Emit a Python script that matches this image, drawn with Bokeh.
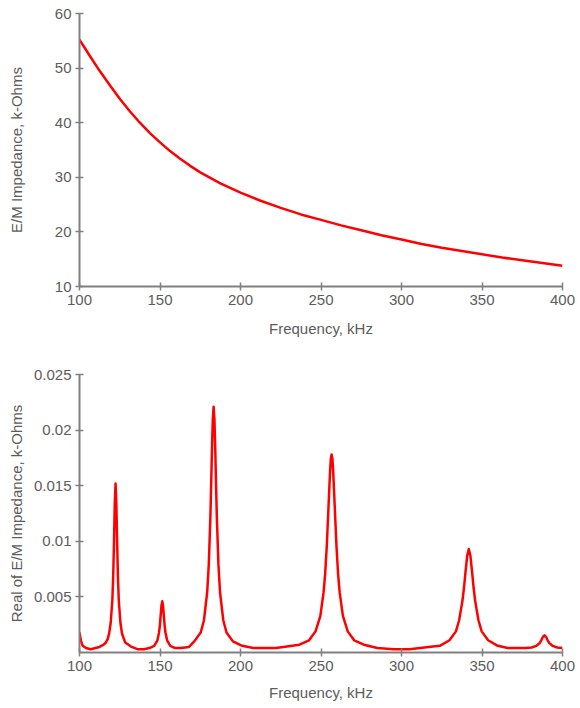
from bokeh.plotting import figure
from bokeh.layouts import column
from bokeh.models import FixedTicker, Range1d
from bokeh.embed import file_html
from bokeh.resources import INLINE

# ---- data: top chart (E/M impedance magnitude) ----
freq_top = [100, 106.25, 112.5, 118.75, 125, 131.25, 137.5, 143.75, 150, 156.25, 162.5,
            168.75, 175, 187.5, 200, 212.5, 225, 237.5, 250, 262.5, 275, 287.5, 300,
            312.5, 325, 337.5, 350, 362.5, 375, 387.5, 400]
imp_top = [55.2, 52.3, 49.5, 46.9, 44.4, 42.1, 40.0, 38.1, 36.4, 34.8, 33.4,
           32.1, 30.9, 28.9, 27.2, 25.7, 24.4, 23.2, 22.2, 21.2, 20.3, 19.4, 18.6,
           17.8, 17.1, 16.5, 15.9, 15.3, 14.8, 14.3, 13.8]

# ---- data: bottom chart (real part of E/M impedance) ----
freq_bot = [100, 101, 102, 104, 107, 110, 112.4, 115, 116.4, 117.5, 118.4, 119.4, 120.4,
            120.9, 121.4, 121.9, 122.4, 122.9, 123.4, 123.9, 124.4, 125.4, 126.4, 128.4,
            132.4, 136, 140, 143.4, 146.4, 148.4, 149.4, 149.9, 150.4, 150.9, 151.4,
            151.9, 152.4, 152.9, 153.4, 154.4, 156.4, 159.4, 163, 168, 171.3, 175.3,
            177.3, 179.3, 180.3, 181.3, 181.8, 182.3, 182.8, 183.3, 183.8, 184.3, 184.8,
            185.3, 186.3, 187.3, 189.3, 191.3, 195.3, 201, 208, 215, 222, 226.6, 236.6,
            242.6, 246.6, 249.6, 251.6, 252.6, 253.6, 254.6, 255.6, 256.1, 256.6, 257.1,
            257.6, 258.6, 259.6, 260.6, 261.6, 263.6, 266.6, 270.6, 276.6, 285, 295, 305,
            316.8, 323.8, 329.8, 333.8, 335.8, 337.8, 338.8, 339.8, 340.8, 341.8, 342.8,
            343.8, 344.8, 345.8, 347.8, 349.8, 353.8, 359.8, 366, 372, 377, 380.8, 383.8,
            385.8, 386.8, 387.8, 388.8, 389.8, 390.8, 391.8, 393.8, 396.8, 400]
real_bot = [0.0018, 0.0010, 0.0006, 0.0004, 0.0003, 0.0004, 0.0005, 0.0007, 0.0009, 0.0012,
            0.0017, 0.0027, 0.0047, 0.0067, 0.0097, 0.0133, 0.0152, 0.0133, 0.0097, 0.0067,
            0.0047, 0.0027, 0.0017, 0.0009, 0.0005, 0.0003, 0.0003, 0.0004, 0.0006, 0.0011,
            0.0018, 0.0024, 0.0033, 0.0042, 0.0046, 0.0042, 0.0033, 0.0024, 0.0018, 0.0011,
            0.0006, 0.0004, 0.0004, 0.0005, 0.0010, 0.0018, 0.0029, 0.0054, 0.0079, 0.0122,
            0.0152, 0.0184, 0.0210, 0.0221, 0.0210, 0.0184, 0.0152, 0.0122, 0.0079, 0.0054,
            0.0029, 0.0018, 0.0010, 0.0006, 0.0004, 0.0004, 0.0004, 0.0005, 0.0007, 0.0011,
            0.0019, 0.0033, 0.0054, 0.0071, 0.0096, 0.0129, 0.0162, 0.0174, 0.0178, 0.0174,
            0.0162, 0.0129, 0.0096, 0.0071, 0.0054, 0.0033, 0.0019, 0.0011, 0.0007, 0.0004,
            0.0003, 0.0003, 0.0005, 0.0006, 0.0011, 0.0019, 0.0029, 0.0046, 0.0058, 0.0073,
            0.0087, 0.0093, 0.0087, 0.0073, 0.0058, 0.0046, 0.0029, 0.0019, 0.0011, 0.0006,
            0.0004, 0.0004, 0.0004, 0.00045, 0.0006, 0.00084, 0.0011, 0.0014, 0.00155,
            0.0014, 0.0011, 0.00084, 0.0006, 0.00045, 0.0004]

x_ticks = [100, 150, 200, 250, 300, 350, 400]
y_ticks_top = [10, 20, 30, 40, 50, 60]
y_ticks_bot = [0.005, 0.01, 0.015, 0.02, 0.025]
y_labels_bot = ["0.005", "0.01", "0.015", "0.02", "0.025"]

FONT = "Liberation Sans"
TXT = "#5c5c5c"
AX = "#808080"


def style(p, ylab_standoff):
    p.xgrid.grid_line_color = None
    p.ygrid.grid_line_color = None
    p.outline_line_color = None
    p.background_fill_color = "white"
    p.border_fill_color = "white"
    for ax in (p.xaxis[0], p.yaxis[0]):
        ax.axis_line_color = AX
        ax.axis_line_width = 2
        ax.major_tick_line_color = AX
        ax.major_tick_line_width = 1.5
        ax.major_tick_in = 4
        ax.major_tick_out = 4
        ax.minor_tick_line_color = None
        ax.major_label_text_font = FONT
        ax.major_label_text_font_size = "15px"
        ax.major_label_text_color = TXT
        ax.major_label_standoff = 4
        ax.axis_label_text_font = FONT
        ax.axis_label_text_font_size = "15px"
        ax.axis_label_text_font_style = "normal"
        ax.axis_label_text_color = TXT
    p.xaxis[0].ticker = FixedTicker(ticks=x_ticks)
    p.xaxis[0].axis_label = "Frequency, kHz"
    p.yaxis[0].axis_label_standoff = ylab_standoff


p1 = figure(frame_width=483, frame_height=273, output_backend="svg", toolbar_location=None,
            x_range=Range1d(100, 400), y_range=Range1d(10, 60),
            min_border_left=79, min_border_right=14, min_border_top=13, min_border_bottom=55)
p1.line(freq_top, imp_top, line_color="red", line_width=2.5, line_join="round")
style(p1, 27)
p1.xaxis[0].axis_label_standoff = 12
p1.yaxis[0].ticker = FixedTicker(ticks=y_ticks_top)
p1.yaxis[0].axis_label = "E/M Impedance, k-Ohms"

p2 = figure(frame_width=483, frame_height=278, output_backend="svg", toolbar_location=None,
            x_range=Range1d(100, 400), y_range=Range1d(0, 0.025),
            min_border_left=79, min_border_right=14, min_border_top=33, min_border_bottom=52)
p2.line(freq_bot, real_bot, line_color="red", line_width=2.5, line_join="round")
style(p2, 6)
p2.xaxis[0].axis_label_standoff = 10
p2.yaxis[0].ticker = FixedTicker(ticks=y_ticks_bot)
p2.yaxis[0].major_label_overrides = {t: l for t, l in zip(y_ticks_bot, y_labels_bot)}
p2.yaxis[0].axis_label = "Real of E/M Impedance, k-Ohms"

layout = column(p1, p2, spacing=0)
open("out.html", "w").write(file_html(layout, INLINE))
